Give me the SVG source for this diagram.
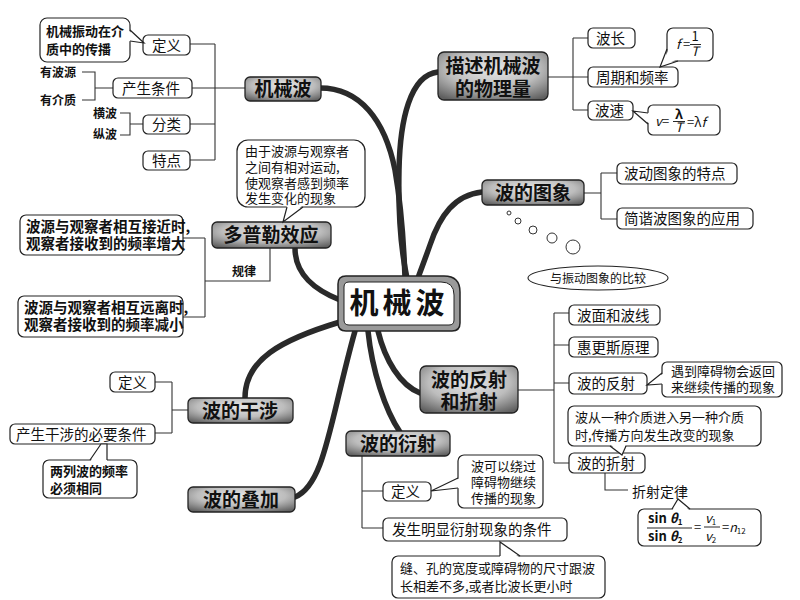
<svg xmlns="http://www.w3.org/2000/svg" width="800" height="600" viewBox="0 0 800 600">
<defs>
<radialGradient id="mg" cx="50%" cy="35%" r="75%">
<stop offset="0" stop-color="#e6e6e6"/>
<stop offset="0.55" stop-color="#bdbdbd"/>
<stop offset="1" stop-color="#5f5f5f"/>
</radialGradient>
</defs>
<style>
.main rect{fill:url(#mg);stroke:#222;stroke-width:1.3}
.main text{font-family:"Noto Sans CJK SC",sans-serif;font-weight:bold;font-size:19px;fill:#111;text-anchor:middle}
.sub rect{fill:#fff;stroke:#222;stroke-width:1.2}
.sub text{font-family:"Noto Sans CJK SC",sans-serif;font-size:14.5px;fill:#111}
.co rect{fill:#fff;stroke:#222;stroke-width:1.2}
.co polygon{fill:#fff;stroke:none}
.co polyline{fill:none;stroke:#222;stroke-width:1.2}
.co text{font-family:"Noto Sans CJK SC",sans-serif;font-size:13px;fill:#111}
.lbl{font-family:"Noto Sans CJK SC",sans-serif;font-size:12px;font-weight:bold;fill:#111}
.ln{fill:none;stroke:#333;stroke-width:1.1}
.br{fill:none;stroke:#2a2a2a;stroke-width:5.5;stroke-linecap:round}
.fm{font-family:"Liberation Serif",serif;fill:#111}
</style>
<rect width="800" height="600" fill="#fff"/>

<g id="connectors">
<path class="br" d="M320,88 C360,88 385,120 395,170 C402,210 404,250 405,278"/>
<path class="br" d="M438,72 C410,75 400,120 399,170 C398,220 402,255 407,278"/>
<path class="br" d="M482,192 C455,195 440,215 430,245 C424,262 420,272 418,278"/>
<path class="br" d="M295,248 C295,275 315,290 340,300"/>
<path class="br" d="M245,398 C245,360 280,340 340,322"/>
<path class="br" d="M295,497 C325,485 330,420 355,331"/>
<path class="br" d="M368,331 C372,370 385,410 400,432"/>
<path class="br" d="M378,331 C385,360 400,385 420,393"/>
<path class="ln" d="M190,44 H215 M192,88 H245 M190,124 H215 M190,160 H215 M215,44 V160"/>
<path class="ln" d="M82,72 H95 V100 H82 M95,88 H113"/>
<path class="ln" d="M120,113 H130 V135 H120 M130,124 H143"/>
<path class="ln" d="M548,77 H573 M573,38 V110 M573,38 H588 M573,77 H588 M573,110 H588"/>
<path class="ln" d="M584,193 H601 M601,173 V219 M601,173 H617 M601,219 H617"/>
<path class="ln" d="M183,238 H205 M183,317 H205 M205,238 V317 M205,281 H270 V248"/>
<path class="ln" d="M155,382 H172 M155,433 H172 M172,382 V433 M172,410 H188"/>
<path class="ln" d="M362,456 V528 M362,491 H383 M362,528 H383"/>
<path class="ln" d="M518,390 H554 M554,313 V463 M554,313 H569 M554,345 H569 M554,383 H569 M554,463 H569 M605,473 V490 H628"/>
<g fill="#fff" stroke="#333" stroke-width="1">
<circle cx="509" cy="213" r="2"/>
<circle cx="518" cy="221" r="3"/>
<circle cx="533" cy="230" r="4"/>
<circle cx="552" cy="238" r="5"/>
<circle cx="573" cy="247" r="7"/>
</g>
</g>

<g id="center">
<path d="M346,276 H444 Q460,276 460,292 V323 Q460,331 452,331 H346 Q338,331 338,323 V284 Q338,276 346,276 Z" fill="#9a9a9a" stroke="#222" stroke-width="1.5"/>
<path d="M349,282 H441 Q454,282 454,295 V320 Q454,325 449,325 H349 Q344,325 344,320 V287 Q344,282 349,282 Z" fill="#fff" stroke="#222" stroke-width="1"/>
<text x="399" y="314" font-family="Noto Sans CJK SC,sans-serif" font-size="29" font-weight="bold" text-anchor="middle" letter-spacing="4" fill="#111">机械波</text>
</g>

<g id="n-jxb" class="main"><rect x="245" y="77" width="76" height="24" rx="5"/><text x="283" y="96">机械波</text></g>
<g id="n-wlj" class="main"><rect x="438" y="52" width="110" height="48" rx="6"/><text x="493" y="73">描述机械波</text><text x="493" y="96">的物理量</text></g>
<g id="n-tx" class="main"><rect x="482" y="180" width="102" height="25" rx="5"/><text x="533" y="200">波的图象</text></g>
<g id="n-dpl" class="main"><rect x="212" y="222" width="119" height="26" rx="5"/><text x="271" y="242" font-size="21">多普勒效应</text></g>
<g id="n-fs" class="main"><rect x="420" y="366" width="98" height="47" rx="6"/><text x="469" y="387">波的反射</text><text x="469" y="409">和折射</text></g>
<g id="n-gs" class="main"><rect x="188" y="398" width="105" height="25" rx="5"/><text x="240" y="418">波的干涉</text></g>
<g id="n-dj" class="main"><rect x="188" y="487" width="107" height="25" rx="5"/><text x="241" y="507">波的叠加</text></g>
<g id="n-ys" class="main"><rect x="346" y="431" width="104" height="25" rx="5"/><text x="398" y="451">波的衍射</text></g>

<g id="s-dy1" class="sub"><rect x="143" y="35" width="47" height="20" rx="5"/><text x="152" y="51">定义</text></g>
<g id="s-cstj" class="sub"><rect x="113" y="78" width="79" height="20" rx="5"/><text x="122" y="94">产生条件</text></g>
<g id="s-fl" class="sub"><rect x="143" y="115" width="47" height="19" rx="5"/><text x="152" y="130">分类</text></g>
<g id="s-td" class="sub"><rect x="143" y="151" width="47" height="19" rx="5"/><text x="152" y="166">特点</text></g>
<text class="lbl" x="40" y="77">有波源</text>
<text class="lbl" x="40" y="105">有介质</text>
<text class="lbl" x="93" y="118">横波</text>
<text class="lbl" x="93" y="139">纵波</text>
<g id="c-jxzd" class="co">
<rect x="40" y="18" width="90" height="44" rx="7"/>
<polygon points="128,30 144,43 128,41"/><polyline points="130,30 144,43 130,41"/>
<text x="46" y="36" font-weight="bold">机械振动在介</text><text x="46" y="54" font-weight="bold">质中的传播</text>
</g>

<g id="s-bc" class="sub"><rect x="588" y="28" width="47" height="20" rx="5"/><text x="596" y="44">波长</text></g>
<g id="s-zq" class="sub"><rect x="588" y="67" width="90" height="20" rx="5"/><text x="596" y="83">周期和频率</text></g>
<g id="s-bs" class="sub"><rect x="588" y="101" width="45" height="19" rx="5"/><text x="595" y="116">波速</text></g>
<g id="c-f" class="co">
<rect x="667" y="28" width="46" height="33" rx="6"/>
<polygon points="669,49 660,67 678,59"/><polyline points="667,49 660,67 678,61"/>
<text class="fm" x="676" y="49" font-size="12" font-style="italic">f</text>
<text class="fm" x="683" y="49" font-size="11">=</text>
<text class="fm" x="695" y="41" font-size="9" text-anchor="middle">1</text>
<line x1="690" y1="44.5" x2="701" y2="44.5" stroke="#111" stroke-width="0.9"/>
<text class="fm" x="695" y="56" font-size="10" font-style="italic" text-anchor="middle">T</text>
</g>
<g id="c-v" class="co">
<rect x="648" y="105" width="72" height="30" rx="5"/>
<polygon points="650,113 633,111 650,124"/><polyline points="648,113 633,111 648,124"/>
<text class="fm" x="655" y="126" font-size="11" font-style="italic">v</text>
<text class="fm" x="662" y="126" font-size="11">=</text>
<text class="fm" x="679" y="118.5" font-size="11" font-weight="bold" text-anchor="middle">λ</text>
<line x1="673" y1="121.5" x2="685" y2="121.5" stroke="#111" stroke-width="0.9"/>
<text class="fm" x="679" y="132" font-size="10" font-style="italic" text-anchor="middle">T</text>
<text class="fm" x="687" y="127" font-size="13">=λ<tspan font-style="italic">f</tspan></text>
</g>

<g id="s-tedian" class="sub"><rect x="617" y="163" width="120" height="21" rx="5"/><text x="624" y="179">波动图象的特点</text></g>
<g id="s-yy" class="sub"><rect x="617" y="208" width="136" height="21" rx="5"/><text x="624" y="224">简谐波图象的应用</text></g>
<g id="e-bj">
<ellipse cx="598" cy="278" rx="70" ry="12" fill="#fff" stroke="#222" stroke-width="1.1"/>
<text x="598" y="283" font-family="Noto Sans CJK SC,sans-serif" font-size="12" text-anchor="middle" fill="#111">与振动图象的比较</text>
</g>

<g id="c-dpl" class="co">
<rect x="237" y="140" width="128" height="67" rx="11"/>
<polygon points="287,205 283,222 303,205"/><polyline points="287,207 283,222 303,207"/>
<text x="245" y="156" font-size="12.5">由于波源与观察者</text>
<text x="245" y="172" font-size="12.5">之间有相对运动,</text>
<text x="245" y="188" font-size="12.5">使观察者感到频率</text>
<text x="245" y="203" font-size="12.5">发生变化的现象</text>
</g>
<g id="s-jj" class="sub"><rect x="20" y="215" width="163" height="40" rx="6"/>
<text x="26" y="232" font-size="12" font-weight="bold">波源与观察者相互接近时,</text>
<text x="26" y="249" font-size="12" font-weight="bold">观察者接收到的频率增大</text></g>
<g id="s-yl" class="sub"><rect x="18" y="296" width="165" height="41" rx="6"/>
<text x="24" y="313" font-size="12" font-weight="bold">波源与观察者相互远离时,</text>
<text x="24" y="330" font-size="12" font-weight="bold">观察者接收到的频率减小</text></g>
<text class="lbl" x="232" y="276">规律</text>

<g id="s-dy2" class="sub"><rect x="110" y="372" width="45" height="20" rx="5"/><text x="118" y="388">定义</text></g>
<g id="s-bytj" class="sub"><rect x="10" y="424" width="145" height="20" rx="5"/><text x="16" y="440">产生干涉的必要条件</text></g>
<g id="c-lbl" class="co">
<rect x="43" y="460" width="94" height="38" rx="6"/>
<polygon points="90,462 101,444 107,444 107,462"/><polyline points="90,460 101,444 107,444 107,460"/>
<text x="50" y="476" font-weight="bold">两列波的频率</text>
<text x="50" y="493" font-weight="bold">必须相同</text>
</g>

<g id="s-dy3" class="sub"><rect x="383" y="482" width="48" height="19" rx="5"/><text x="391" y="497">定义</text></g>
<g id="s-tj" class="sub"><rect x="383" y="518" width="184" height="23" rx="5"/><text x="392" y="535" font-size="15">发生明显衍射现象的条件</text></g>
<g id="c-rg" class="co">
<rect x="458" y="455" width="85" height="53" rx="6"/>
<polygon points="460,478 431,491 460,488"/><polyline points="458,478 431,491 458,488"/>
<text x="471" y="471">波可以绕过</text>
<text x="471" y="487">障碍物继续</text>
<text x="471" y="503">传播的现象</text>
</g>
<g id="c-fk" class="co">
<rect x="392" y="556" width="213" height="42" rx="6"/>
<polygon points="500,558 500,542 520,558"/><polyline points="500,556 500,542 520,556"/>
<text x="400" y="573" font-size="14">缝、孔的宽度或障碍物的尺寸跟波</text>
<text x="400" y="591" font-size="14">长相差不多,或者比波长更小时</text>
</g>

<g id="s-bm" class="sub"><rect x="569" y="305" width="91" height="20" rx="5"/><text x="577" y="321">波面和波线</text></g>
<g id="s-hgs" class="sub"><rect x="569" y="337" width="89" height="20" rx="5"/><text x="577" y="353">惠更斯原理</text></g>
<g id="s-bfs" class="sub"><rect x="569" y="373" width="78" height="21" rx="5"/><text x="577" y="389">波的反射</text></g>
<g id="s-bzs" class="sub"><rect x="569" y="453" width="76" height="20" rx="5"/><text x="577" y="469">波的折射</text></g>
<text x="632" y="497" font-family="Noto Sans CJK SC,sans-serif" font-size="14" fill="#111">折射定律</text>
<g id="c-fh" class="co">
<rect x="662" y="362" width="120" height="35" rx="5"/>
<polygon points="664,373 647,385 664,384"/><polyline points="662,373 647,385 662,384"/>
<text x="671" y="376">遇到障碍物会返回</text>
<text x="671" y="392">来继续传播的现象</text>
</g>
<g id="c-zs" class="co">
<rect x="568" y="406" width="193" height="40" rx="6"/>
<polygon points="610,444 622,455 626,444"/><polyline points="610,446 622,455 626,446"/>
<text x="575" y="422" font-size="13.5">波从一种介质进入另一种介质</text>
<text x="575" y="440" font-size="13.5">时,传播方向发生改变的现象</text>
</g>
<g id="c-law" class="co">
<rect x="638" y="509" width="123" height="37" rx="6"/>
<polygon points="672,511 678,499 690,511"/><polyline points="672,509 678,499 690,509"/>
<text class="fm" x="648" y="523" font-size="12" font-weight="bold">sin <tspan font-style="italic">θ</tspan><tspan font-size="8" dy="2">1</tspan></text>
<line x1="647" y1="528" x2="692" y2="528" stroke="#111" stroke-width="0.9"/>
<text class="fm" x="648" y="541" font-size="12" font-weight="bold">sin <tspan font-style="italic">θ</tspan><tspan font-size="8" dy="2">2</tspan></text>
<text class="fm" x="694" y="532" font-size="11">=</text>
<text class="fm" x="705" y="523" font-size="12" font-style="italic">v<tspan font-size="8" dy="2" font-style="normal">1</tspan></text>
<line x1="704" y1="527" x2="720" y2="527" stroke="#111" stroke-width="0.9"/>
<text class="fm" x="705" y="541" font-size="12" font-style="italic">v<tspan font-size="8" dy="2" font-style="normal">2</tspan></text>
<text class="fm" x="722" y="532" font-size="11">=<tspan font-style="italic" font-size="12.5">n</tspan><tspan font-size="8" dy="2">12</tspan></text>
</g>
</svg>
